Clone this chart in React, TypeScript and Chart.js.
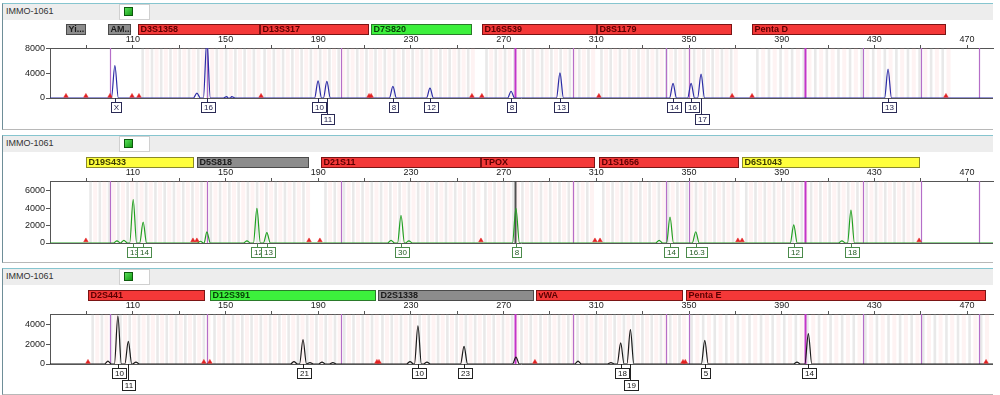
import React, { useEffect, useRef } from 'react';
import { Chart, registerables } from 'chart.js';

Chart.register(...registerables);

// ---------- shared axis data ----------
const X_MIN = 74.2;
const X_MAX = 481.2;
const xTickValues = [90, 110, 130, 150, 170, 190, 210, 230, 250, 270, 290, 310, 330, 350, 370, 390, 410, 430, 450, 470];
const xTickLabels = [110, 150, 190, 230, 270, 310, 350, 390, 430, 470];
const sizeStandard = [100, 142, 200, 275, 300, 340, 350, 400, 425, 450, 475];
const sizeStandardStrong = [275, 400];
const sampleName = 'IMMO-1061';

// ---------- panel 1 (blue dye) ----------
const p1LocusNames = ['Yi...', 'AM...', 'D3S1358', 'D13S317', 'D7S820', 'D16S539', 'D8S1179', 'Penta D'];
const p1LocusStart = [81.1, 99.2, 112.2, 164.8, 212.7, 260.6, 310.2, 377.0];
const p1LocusEnd = [89.7, 109.1, 164.8, 211.8, 256.3, 310.2, 368.4, 460.7];
const p1LocusColor = ['grey', 'grey', 'red', 'red', 'green', 'red', 'red', 'red'];
const p1LocusUnit = [0, 0, 4, 4, 4, 4, 4, 5];
const p1PeakSizes = [102.2, 137.6, 141.9, 150.5, 152.6, 189.9, 193.7, 222.2, 238.2, 273.2, 294.3, 343.1, 350.9, 355.2, 435.9];
const p1PeakHeights = [5300, 800, 9500, 220, 220, 2800, 2700, 1900, 1600, 1100, 4100, 2400, 2400, 3900, 4700];
const p1AlleleSizes = [102.2, 141.9, 189.9, 193.7, 222.2, 238.2, 273.2, 294.3, 343.1, 350.9, 355.2, 435.9];
const p1AlleleNames = ['X', '16', '10', '11', '8', '12', '8', '13', '14', '16', '17', '13'];
const p1AlleleRows = [0, 0, 0, 1, 0, 0, 0, 0, 0, 0, 1, 0];
const p1RedMarkers = [81.1, 89.7, 100.1, 109.6, 112.6, 165.3, 211.9, 212.8, 256.3, 260.6, 311.1, 368.6, 377.2, 460.9];
const p1YTicks = [0, 2000, 4000, 6000, 8000];
const p1YLabels = [0, 4000, 8000];
const p1YMax = 8150;

// ---------- panel 2 (green dye) ----------
const p2LocusNames = ['D19S433', 'D5S818', 'D21S11', 'TPOX', 'D1S1656', 'D6S1043'];
const p2LocusStart = [89.7, 137.6, 191.1, 260.1, 311.0, 372.7];
const p2LocusEnd = [136.3, 185.9, 260.1, 309.3, 371.4, 449.5];
const p2LocusColor = ['yellow', 'grey', 'red', 'red', 'red', 'yellow'];
const p2LocusUnit = [4, 4, 4, 4, 4, 4];
const p2PeakSizes = [103.1, 106.1, 110.1, 114.4, 139.2, 141.9, 159.2, 163.5, 167.8, 221.4, 225.7, 229.1, 275.3, 337.1, 341.8, 352.9, 395.2, 416.0, 419.9];
const p2PeakHeights = [250, 300, 5000, 2400, 200, 1300, 250, 4000, 1200, 300, 3200, 250, 4000, 300, 3000, 1300, 2100, 250, 3800];
const p2AlleleSizes = [110.1, 114.4, 163.5, 167.8, 225.7, 275.3, 341.8, 352.9, 395.2, 419.9];
const p2AlleleNames = ['13', '14', '12', '13', '30', '8', '14', '16.3', '12', '18'];
const p2AlleleRows = [0, 0, 0, 0, 0, 0, 0, 0, 0, 0];
const p2RedMarkers = [89.7, 135.9, 137.6, 186.0, 190.7, 260.2, 309.4, 311.6, 371.1, 372.9, 449.3];
const p2YTicks = [0, 1000, 2000, 3000, 4000, 5000, 6000, 7000];
const p2YLabels = [0, 2000, 4000, 6000];
const p2YMax = 7150;

// ---------- panel 3 (black dye) ----------
const p3LocusNames = ['D2S441', 'D12S391', 'D2S1338', 'vWA', 'Penta E'];
const p3LocusStart = [90.6, 143.2, 215.7, 283.9, 348.6];
const p3LocusEnd = [141.1, 214.8, 283.0, 347.3, 478.0];
const p3LocusColor = ['red', 'green', 'grey', 'red', 'red'];
const p3LocusUnit = [4, 4, 4, 4, 5];
const p3PeakSizes = [99.2, 103.5, 108.0, 111.3, 179.5, 183.4, 186.4, 191.6, 196.3, 229.6, 233.0, 236.9, 252.9, 275.3, 302.1, 316.3, 320.5, 324.7, 356.8, 396.6, 401.5];
const p3PeakHeights = [300, 4900, 2300, 200, 250, 2500, 150, 200, 150, 250, 3900, 200, 1800, 700, 300, 150, 2150, 3500, 2400, 200, 3100];
const p3AlleleSizes = [103.5, 108.0, 183.4, 233.0, 252.9, 320.5, 324.7, 356.8, 401.5];
const p3AlleleNames = ['10', '11', '21', '10', '23', '18', '19', '5', '14'];
const p3AlleleRows = [0, 1, 0, 0, 0, 0, 1, 0, 0];
const p3RedMarkers = [90.6, 140.6, 143.2, 215.3, 216.2, 283.5, 347.4, 348.4, 478.2];
const p3YTicks = [0, 1000, 2000, 3000, 4000, 5000];
const p3YLabels = [0, 2000, 4000];
const p3YMax = 5100;

// ---------- styles ----------
const LOCUS_STYLE: Record<string, { fill: string; border: string; text: string }> = {
  red: { fill: '#f43838', border: '#7a1414', text: '#5a0000' },
  green: { fill: '#3cf03c', border: '#2a7a2a', text: '#074007' },
  grey: { fill: '#8c8c8c', border: '#4a4a4a', text: '#1a1a1a' },
  yellow: { fill: '#ffff3c', border: '#8a8a2a', text: '#3a3a00' },
};

type PanelCfg = {
  headerTop: number;
  frameBottom: number;
  canvasTop: number;
  canvasH: number;
  areaTop: number;
  padBottom: number;
  traceColor: string;
  labelBorder: string;
  labelText: string;
  yMax: number;
  yTicks: number[];
  yLabels: number[];
  locusNames: string[];
  locusStart: number[];
  locusEnd: number[];
  locusColor: string[];
  locusUnit: number[];
  peakSizes: number[];
  peakHeights: number[];
  alleleSizes: number[];
  alleleNames: string[];
  alleleRows: number[];
  redMarkers: number[];
  sizeLineOverride?: Record<number, string>;
};

const PEAK_HALF_WIDTH = 1.5;

function buildTrace(sizes: number[], heights: number[]) {
  const idx = sizes.map((_, i) => i).sort((a, b) => sizes[a] - sizes[b]);
  const pts: { x: number; y: number }[] = [{ x: X_MIN, y: 0 }];
  for (const i of idx) {
    pts.push({ x: sizes[i] - PEAK_HALF_WIDTH, y: 0 });
    pts.push({ x: sizes[i], y: heights[i] });
    pts.push({ x: sizes[i] + PEAK_HALF_WIDTH, y: 0 });
  }
  pts.push({ x: X_MAX, y: 0 });
  pts.sort((a, b) => a.x - b.x);
  return pts;
}

const panels: PanelCfg[] = [
  {
    headerTop: 3, frameBottom: 130, canvasTop: 21, canvasH: 109, areaTop: 27, padBottom: 32,
    traceColor: '#2b2ba6', labelBorder: '#2a2a55', labelText: '#1e1e4a',
    yMax: p1YMax, yTicks: p1YTicks, yLabels: p1YLabels,
    locusNames: p1LocusNames, locusStart: p1LocusStart, locusEnd: p1LocusEnd, locusColor: p1LocusColor, locusUnit: p1LocusUnit,
    peakSizes: p1PeakSizes, peakHeights: p1PeakHeights,
    alleleSizes: p1AlleleSizes, alleleNames: p1AlleleNames, alleleRows: p1AlleleRows,
    redMarkers: p1RedMarkers,
  },
  {
    headerTop: 135, frameBottom: 263, canvasTop: 153, canvasH: 112, areaTop: 28, padBottom: 22,
    traceColor: '#22a022', labelBorder: '#4a8a4a', labelText: '#235a23',
    yMax: p2YMax, yTicks: p2YTicks, yLabels: p2YLabels,
    locusNames: p2LocusNames, locusStart: p2LocusStart, locusEnd: p2LocusEnd, locusColor: p2LocusColor, locusUnit: p2LocusUnit,
    peakSizes: p2PeakSizes, peakHeights: p2PeakHeights,
    alleleSizes: p2AlleleSizes, alleleNames: p2AlleleNames, alleleRows: p2AlleleRows,
    redMarkers: p2RedMarkers,
    sizeLineOverride: { 275: '#505050' },
  },
  {
    headerTop: 268, frameBottom: 395, canvasTop: 286, canvasH: 109, areaTop: 28, padBottom: 31,
    traceColor: '#1a1a1a', labelBorder: '#222222', labelText: '#111111',
    yMax: p3YMax, yTicks: p3YTicks, yLabels: p3YLabels,
    locusNames: p3LocusNames, locusStart: p3LocusStart, locusEnd: p3LocusEnd, locusColor: p3LocusColor, locusUnit: p3LocusUnit,
    peakSizes: p3PeakSizes, peakHeights: p3PeakHeights,
    alleleSizes: p3AlleleSizes, alleleNames: p3AlleleNames, alleleRows: p3AlleleRows,
    redMarkers: p3RedMarkers,
  },
];

function makeDecorPlugin(cfg: PanelCfg) {
  return {
    id: 'decor',
    beforeDatasetsDraw(chart: any) {
      const { ctx, chartArea } = chart;
      const xs = chart.scales.x;
      const ys = chart.scales.y;
      const top = chartArea.top;
      const h = chartArea.bottom - chartArea.top;
      ctx.save();
      ctx.beginPath();
      ctx.rect(chartArea.left, chartArea.top, chartArea.right - chartArea.left, h);
      ctx.clip();
      // allele bins
      for (let i = 0; i < cfg.locusNames.length; i++) {
        const u = cfg.locusUnit[i];
        if (!u) continue;
        for (let b = cfg.locusStart[i] + u * 0.5; b < cfg.locusEnd[i]; b += u) {
          const px = xs.getPixelForValue(b);
          ctx.fillStyle = 'rgba(165,165,165,0.24)';
          ctx.fillRect(px - 1.3, top, 2.6, h);
          const pp = xs.getPixelForValue(b + u * 0.5);
          ctx.fillStyle = 'rgba(245,160,160,0.12)';
          ctx.fillRect(pp - 2, top, 4, h);
        }
      }
      // size standard lines
      for (const s of sizeStandard) {
        const px = Math.round(xs.getPixelForValue(s)) + 0.5;
        const strong = sizeStandardStrong.includes(s);
        const override = cfg.sizeLineOverride && cfg.sizeLineOverride[s];
        ctx.strokeStyle = override || (strong ? '#c335c8' : '#b56ec8');
        ctx.lineWidth = override ? 2 : strong ? 2 : 1.2;
        ctx.beginPath();
        ctx.moveTo(px, top);
        ctx.lineTo(px, chartArea.bottom);
        ctx.stroke();
      }
      ctx.restore();
      // baseline
      const by = Math.round(ys.getPixelForValue(0)) + 0.5;
      ctx.save();
      ctx.strokeStyle = '#555';
      ctx.lineWidth = 1;
      ctx.beginPath();
      ctx.moveTo(chartArea.left, by);
      ctx.lineTo(chartArea.right, by);
      ctx.stroke();
      ctx.restore();
    },
    afterDraw(chart: any) {
      const { ctx, chartArea } = chart;
      const xs = chart.scales.x;
      const ys = chart.scales.y;
      ctx.save();
      // locus bars
      const barTop = chartArea.top - 24;
      const barH = 10;
      ctx.font = 'bold 9px Arial';
      ctx.textBaseline = 'middle';
      ctx.textAlign = 'left';
      for (let i = 0; i < cfg.locusNames.length; i++) {
        const st = LOCUS_STYLE[cfg.locusColor[i]];
        const x0 = Math.round(xs.getPixelForValue(cfg.locusStart[i])) + 0.5;
        const x1 = Math.round(xs.getPixelForValue(cfg.locusEnd[i])) - 0.5;
        ctx.fillStyle = st.fill;
        ctx.fillRect(x0, barTop + 0.5, x1 - x0, barH);
        ctx.strokeStyle = st.border;
        ctx.lineWidth = 1;
        ctx.strokeRect(x0, barTop + 0.5, x1 - x0, barH);
        ctx.fillStyle = st.text;
        ctx.save();
        ctx.beginPath();
        ctx.rect(x0, barTop, x1 - x0, barH + 1);
        ctx.clip();
        ctx.fillText(cfg.locusNames[i], x0 + 2, barTop + barH / 2 + 1);
        ctx.restore();
      }
      // allele labels
      const base = ys.getPixelForValue(0);
      ctx.font = '8px Arial';
      ctx.textAlign = 'center';
      for (let i = 0; i < cfg.alleleNames.length; i++) {
        const x = Math.round(xs.getPixelForValue(cfg.alleleSizes[i])) + 0.5;
        const bt = Math.round(base + 4 + cfg.alleleRows[i] * 12) + 0.5;
        const tw = ctx.measureText(cfg.alleleNames[i]).width;
        const w = Math.round(tw + 5);
        const bh = 10;
        ctx.strokeStyle = cfg.labelBorder;
        ctx.lineWidth = 1;
        ctx.beginPath();
        ctx.moveTo(x, base);
        ctx.lineTo(x, bt);
        ctx.stroke();
        const bx = Math.round(x - w / 2) + 0.5;
        ctx.fillStyle = '#ffffff';
        ctx.fillRect(bx, bt, w, bh);
        ctx.strokeRect(bx, bt, w, bh);
        ctx.fillStyle = cfg.labelText;
        ctx.fillText(cfg.alleleNames[i], bx + w / 2, bt + bh / 2 + 0.5);
      }
      ctx.restore();
    },
  };
}

function Panel({ cfg }: { cfg: PanelCfg }) {
  const ref = useRef<HTMLCanvasElement>(null);
  useEffect(() => {
    const trace = buildTrace(cfg.peakSizes, cfg.peakHeights);
    const red = cfg.redMarkers.map((x) => ({ x, y: cfg.yMax * 0.04 }));
    const chart = new Chart(ref.current as HTMLCanvasElement, {
      type: 'line',
      data: {
        datasets: [
          {
            type: 'scatter',
            data: red,
            pointStyle: 'triangle',
            pointRadius: 2.6,
            backgroundColor: '#e32222',
            borderColor: '#e32222',
            borderWidth: 0.5,
            clip: false,
            order: 0,
          } as any,
          {
            type: 'line',
            data: trace,
            borderColor: cfg.traceColor,
            borderWidth: 1.2,
            pointRadius: 0,
            fill: false,
            cubicInterpolationMode: 'monotone',
            order: 1,
          } as any,
        ],
      },
      options: {
        animation: false,
        responsive: false,
        maintainAspectRatio: false,
        events: [],
        layout: { padding: { left: 0, right: 7, top: 0, bottom: cfg.padBottom } },
        plugins: { legend: { display: false }, tooltip: { enabled: false } },
        scales: {
          x: {
            type: 'linear',
            position: 'top',
            min: X_MIN,
            max: X_MAX,
            afterBuildTicks: (s: any) => {
              s.ticks = xTickValues.map((v) => ({ value: v }));
            },
            afterFit: (s: any) => {
              s.height = cfg.areaTop;
            },
            ticks: {
              autoSkip: false,
              maxRotation: 0,
              padding: 0,
              color: '#222',
              font: { size: 9, family: 'Arial' },
              callback: (v: any) => (xTickLabels.includes(Number(v)) ? String(v) : ''),
            },
            grid: { drawOnChartArea: false, drawTicks: true, tickLength: 3, color: '#555' },
            border: { display: true, color: '#555' },
          },
          y: {
            type: 'linear',
            min: 0,
            max: cfg.yMax,
            afterBuildTicks: (s: any) => {
              s.ticks = cfg.yTicks.map((v) => ({ value: v }));
            },
            afterFit: (s: any) => {
              s.width = 50;
            },
            ticks: {
              padding: 1,
              color: '#222',
              font: { size: 9, family: 'Arial' },
              callback: (v: any) => (cfg.yLabels.includes(Number(v)) ? String(v) : ''),
            },
            grid: { drawOnChartArea: false, drawTicks: true, tickLength: 4, color: '#555' },
            border: { display: true, color: '#555' },
          },
        },
      },
      plugins: [makeDecorPlugin(cfg)],
    } as any);
    return () => chart.destroy();
  }, [cfg]);

  const t = cfg.headerTop;
  return (
    <>
      <div
        style={{
          position: 'absolute',
          left: 2,
          top: t,
          width: 991,
          height: cfg.frameBottom - t,
          borderLeft: '1px solid #6e8e98',
          borderTop: '1px solid #86c5cf',
          borderBottom: '1px solid #b8b8b8',
          boxSizing: 'border-box',
          background: '#ffffff',
        }}
      />
      <div
        style={{
          position: 'absolute',
          left: 3,
          top: t + 1,
          width: 990,
          height: 16,
          background: '#ededed',
          fontFamily: 'Arial, "Liberation Sans", sans-serif',
          fontSize: 9,
          color: '#333',
        }}
      >
        <span style={{ position: 'absolute', left: 3, top: 2, lineHeight: '11px' }}>{sampleName}</span>
        <div
          style={{
            position: 'absolute',
            left: 116,
            top: 0,
            width: 31,
            height: 16,
            background: '#ffffff',
            border: '1px solid #d0d0d0',
            boxSizing: 'border-box',
          }}
        />
        <div
          style={{
            position: 'absolute',
            left: 121,
            top: 3,
            width: 9,
            height: 9,
            background: 'linear-gradient(135deg, #5be05b, #149a14)',
            border: '1px solid #0d5a0d',
            boxSizing: 'border-box',
          }}
        />
      </div>
      <canvas
        ref={ref}
        width={1000}
        height={cfg.canvasH}
        style={{ position: 'absolute', left: 0, top: cfg.canvasTop, width: 1000, height: cfg.canvasH }}
      />
    </>
  );
}

export default function App() {
  return (
    <div
      style={{
        position: 'absolute',
        left: 0,
        top: 0,
        width: 1000,
        height: 395,
        overflow: 'hidden',
        background: '#ffffff',
      }}
    >
      {panels.map((p, i) => (
        <Panel key={i} cfg={p} />
      ))}
    </div>
  );
}
